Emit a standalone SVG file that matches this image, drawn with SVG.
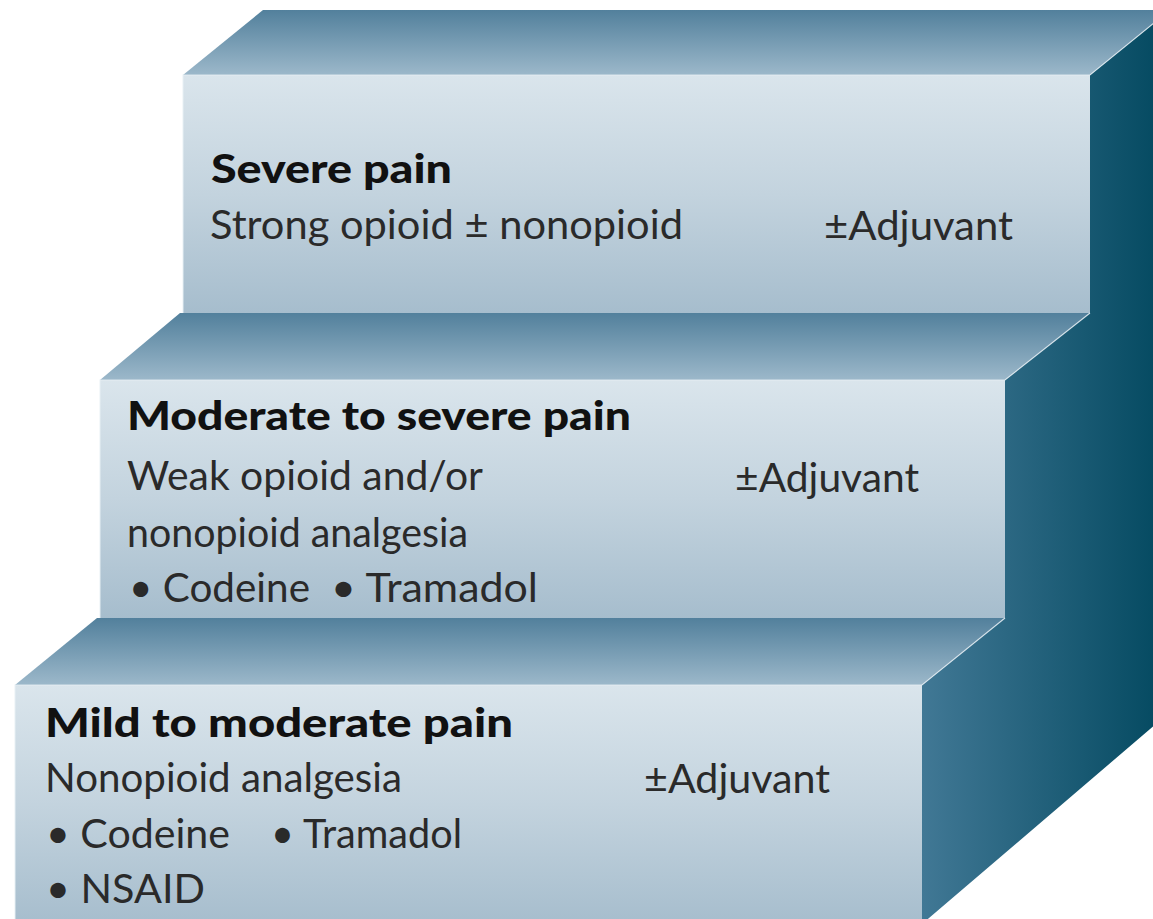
<svg xmlns="http://www.w3.org/2000/svg" width="1153" height="919" viewBox="0 0 1153 919">
<defs>
<linearGradient id="front" x1="0" y1="0" x2="0" y2="1">
<stop offset="0" stop-color="#dae5ec"/>
<stop offset="0.5" stop-color="#c3d3de"/>
<stop offset="1" stop-color="#a6bdcd"/>
</linearGradient>
<linearGradient id="top" x1="0" y1="0" x2="0" y2="1">
<stop offset="0" stop-color="#52809c"/>
<stop offset="1" stop-color="#9cb8ca"/>
</linearGradient>
<linearGradient id="side" gradientUnits="userSpaceOnUse" x1="922" y1="0" x2="1170" y2="0">
<stop offset="0" stop-color="#417895"/>
<stop offset="1" stop-color="#02485f"/>
</linearGradient>
<style>
.face{fill:url(#front);}
.topf{fill:url(#top);}
.edge{fill:none;stroke:#e8f0f5;stroke-width:1.2;opacity:0.8;}
.h{font-family:Lato,"Open Sans","Liberation Sans",sans-serif;font-weight:900;font-size:40px;fill:#111111;}
.t{font-family:Lato,"Open Sans","Liberation Sans",sans-serif;font-weight:400;font-size:40px;fill:#2a2a2a;}
</style>
</defs>
<rect width="1153" height="919" fill="#ffffff"/>
<g id="side-face">
<polygon points="1090,75 1170,10 1170,712 922,924 922,685 1005,618 1005,380 1090,313" fill="url(#side)"/>
</g>
<g id="step-severe">
<polygon class="topf" points="183,75 263,10 1170,10 1090,75"/>
<rect class="face" x="183" y="75" width="907" height="238"/>
<polyline class="edge" points="183,313 183,75 1090,75 1170,10"/>
<text class="h" x="211" y="183" textLength="241" lengthAdjust="spacingAndGlyphs">Severe pain</text>
<text class="t" x="210" y="239" textLength="473" lengthAdjust="spacingAndGlyphs">Strong opioid ± nonopioid</text>
<text class="t" x="824" y="240" textLength="189" lengthAdjust="spacingAndGlyphs">±Adjuvant</text>
</g>
<g id="step-moderate-severe">
<polygon class="topf" points="100,380 180,313 1090,313 1005,380"/>
<rect class="face" x="100" y="380" width="905" height="238"/>
<polyline class="edge" points="100,618 100,380 1005,380 1090,313"/>
<text class="h" x="127" y="430" textLength="504" lengthAdjust="spacingAndGlyphs">Moderate to severe pain</text>
<text class="t" x="127" y="490" textLength="356" lengthAdjust="spacingAndGlyphs">Weak opioid and/or</text>
<text class="t" x="735" y="492" textLength="184" lengthAdjust="spacingAndGlyphs">±Adjuvant</text>
<text class="t" x="127" y="547" textLength="341" lengthAdjust="spacingAndGlyphs">nonopioid analgesia</text>
<text class="t" x="129" y="602" textLength="181" lengthAdjust="spacingAndGlyphs">• Codeine</text>
<text class="t" x="331" y="602" textLength="207" lengthAdjust="spacingAndGlyphs">• Tramadol</text>
</g>
<g id="step-mild-moderate">
<polygon class="topf" points="15,685 97,618 1005,618 922,685"/>
<rect class="face" x="15" y="685" width="907" height="240"/>
<polyline class="edge" points="15,919 15,685 922,685 1005,618"/>
<text class="h" x="45" y="737" textLength="468" lengthAdjust="spacingAndGlyphs">Mild to moderate pain</text>
<text class="t" x="45" y="792" textLength="357" lengthAdjust="spacingAndGlyphs">Nonopioid analgesia</text>
<text class="t" x="644" y="793" textLength="186" lengthAdjust="spacingAndGlyphs">±Adjuvant</text>
<text class="t" x="46" y="848" textLength="184" lengthAdjust="spacingAndGlyphs">• Codeine</text>
<text class="t" x="271" y="848" textLength="191" lengthAdjust="spacingAndGlyphs">• Tramadol</text>
<text class="t" x="46" y="903" textLength="159" lengthAdjust="spacingAndGlyphs">• NSAID</text>
</g>
</svg>
